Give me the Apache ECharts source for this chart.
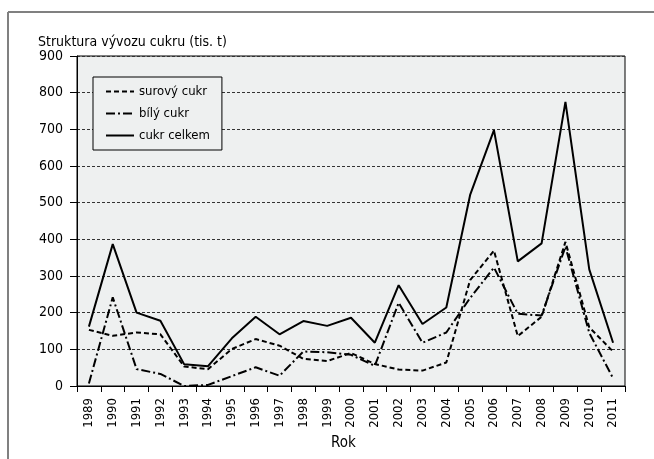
<!DOCTYPE html>
<html>
<head>
<meta charset="utf-8">
<script src="https://cdn.jsdelivr.net/npm/echarts@6/dist/echarts.min.js"></script>
<style>
html,body{margin:0;padding:0;background:#fff;}
#c{width:654px;height:459px;}
</style>
</head>
<body>
<div id="c"></div>
<script>
var years = ['1989','1990','1991','1992','1993','1994','1995','1996','1997','1998','1999','2000','2001','2002','2003','2004','2005','2006','2007','2008','2009','2010','2011'];
var surovy = [153,137,146,141,53,46,101,128,110,74,68,90,60,45,42,64,289,369,136,189,393,160,94];
var bily   = [7,242,46,33,0,3,27,51,28,94,92,85,55,227,118,146,240,323,197,192,380,145,21];
var celkem = [162,387,200,178,59,54,130,189,141,177,164,186,118,275,169,214,521,698,340,389,775,318,118];
var yTicks = [0,100,200,300,400,500,600,700,800,900];

var FONT = '"Liberation Sans Narrow","Arial Narrow","DejaVu Sans Condensed",sans-serif';
var chart = echarts.init(document.getElementById('c'), null, {renderer:'canvas'});
chart.setOption({
  animation:false,
  backgroundColor:'#fff',
  textStyle:{fontFamily:FONT},
  grid:{left:77,right:29,top:56,bottom:73,show:true,backgroundColor:'#eef0f0',borderColor:'#000',borderWidth:1},
  legend:{
    left:93, top:77, orient:'vertical',
    width:129,
    backgroundColor:'#eef0f0', borderColor:'#000', borderWidth:1,
    padding:[8,12,8,12], itemGap:9, itemWidth:28, itemHeight:14,
    itemStyle:{opacity:0},
    textStyle:{fontFamily:FONT,fontSize:13,color:'#000'},
    data:['surový cukr','bílý cukr','cukr celkem']
  },
  xAxis:{
    type:'category', data:years, boundaryGap:true,
    axisLine:{lineStyle:{color:'#000',width:1}},
    axisTick:{show:true,length:6,alignWithLabel:false,lineStyle:{color:'#000'}},
    axisLabel:{rotate:90,margin:12,fontFamily:FONT,fontSize:13,color:'#000',interval:0}
  },
  yAxis:{
    type:'value', min:yTicks[0], max:yTicks[yTicks.length-1], interval:100,
    axisLine:{show:true,lineStyle:{color:'#000',width:1}},
    axisTick:{show:true,length:7,lineStyle:{color:'#000'}},
    axisLabel:{margin:14,fontFamily:FONT,fontSize:14,color:'#000'},
    splitLine:{show:true,lineStyle:{color:'#333',width:1,type:[3,2]}}
  },
  series:[
    {name:'surový cukr',type:'line',data:surovy,symbol:'none',lineStyle:{color:'#000',width:2,type:[5,3]},itemStyle:{color:'#000'}},
    {name:'bílý cukr',type:'line',data:bily,symbol:'none',lineStyle:{color:'#000',width:2,type:[9,3,2,3]},itemStyle:{color:'#000'}},
    {name:'cukr celkem',type:'line',data:celkem,symbol:'none',lineStyle:{color:'#000',width:2,type:'solid'},itemStyle:{color:'#000'}}
  ],
  graphic:[
    {type:'line',shape:{x1:8,y1:12,x2:654,y2:12},style:{stroke:'#808080',lineWidth:2}},
    {type:'line',shape:{x1:8,y1:12,x2:8,y2:459},style:{stroke:'#808080',lineWidth:2}},
    {type:'text',left:38,top:35,style:{text:'Struktura vývozu cukru (tis. t)',font:'14px '+FONT,fill:'#000'}},
    {type:'text',left:331,top:436,style:{text:'Rok',font:'15px '+FONT,fill:'#000'}}
  ]
});
</script>
</body>
</html>
